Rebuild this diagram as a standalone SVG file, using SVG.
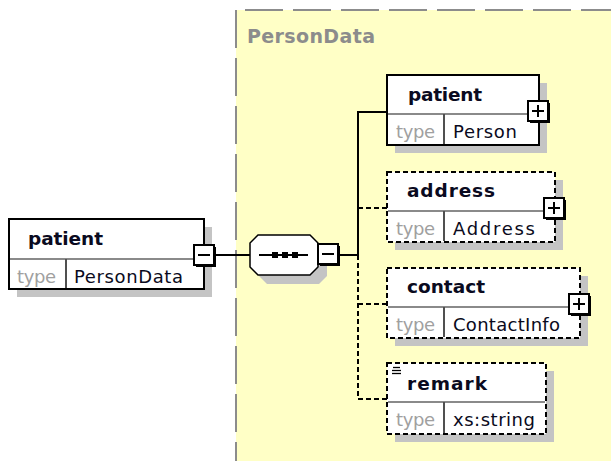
<svg xmlns="http://www.w3.org/2000/svg" width="611" height="461" viewBox="0 0 611 461">
<style>
.bg{fill:#ffffff}
.region{fill:#ffffc6}
.rborder{stroke:#8c8c8c;stroke-width:2;fill:none;stroke-dasharray:38 10}
.shadow{fill:#c4c4c4}
.box{fill:#ffffff;stroke:#000;stroke-width:2}
.dbox{fill:#ffffff;stroke:#000;stroke-width:2;stroke-dasharray:5 3}
.hdiv{stroke:#8a8a8a;stroke-width:2}
.vdiv{stroke:#505050;stroke-width:2}
.name{font-family:"DejaVu Sans","Liberation Sans",sans-serif;font-weight:bold;font-size:18.5px;fill:#0a0a20}
.tlabel{font-family:"DejaVu Sans","Liberation Sans",sans-serif;font-size:18px;fill:#a0a0a0}
.tval{font-family:"DejaVu Sans","Liberation Sans",sans-serif;font-size:18px;fill:#0a0a20}
.rlabel{font-family:"DejaVu Sans","Liberation Sans",sans-serif;font-weight:bold;font-size:19px;fill:#8c8c8c}
.conn{stroke:#000;stroke-width:2;fill:none}
.dconn{stroke:#000;stroke-width:2;fill:none;stroke-dasharray:5 3}
.btn{fill:#fff;stroke:#000;stroke-width:2}
.btnsh{fill:#000}
.sym{stroke:#000;stroke-width:2}
</style>
<rect class="bg" x="0" y="0" width="611" height="461"/>

<g id="region-PersonData">
<rect class="region" x="236" y="10" width="380" height="460"/>
<line class="rborder" x1="236" y1="10" x2="611" y2="10" stroke-dashoffset="39"/>
<line class="rborder" x1="236" y1="10" x2="236" y2="461"/>
<text class="rlabel" x="247" y="43" textLength="128">PersonData</text>
</g>

<g id="connectors">
<line class="conn" x1="216" y1="255" x2="250" y2="255"/>
<line class="conn" x1="340" y1="255" x2="358" y2="255"/>
<polyline class="conn" points="358,255 358,112 388,112"/>
<line class="dconn" x1="358" y1="255" x2="358" y2="399"/>
<line class="dconn" x1="358" y1="208" x2="388" y2="208"/>
<line class="dconn" x1="358" y1="304" x2="388" y2="304"/>
<line class="dconn" x1="358" y1="399" x2="388" y2="399"/>
</g>

<g id="node-patient-root">
<rect class="shadow" x="17" y="227" width="195" height="70"/>
<rect class="box" x="9" y="219" width="195" height="70"/>
<line class="hdiv" x1="10" y1="259" x2="203" y2="259"/>
<line class="vdiv" x1="66" y1="259" x2="66" y2="288"/>
<text class="name" x="28" y="245" textLength="75">patient</text>
<text class="tlabel" x="17" y="282.5" textLength="39">type</text>
<text class="tval" x="74" y="282.5" textLength="109">PersonData</text>
<rect class="btnsh" x="196" y="247" width="20" height="20"/>
<rect class="btn" x="194" y="245" width="20" height="20"/>
<line class="sym" x1="198" y1="255" x2="210" y2="255"/>
</g>

<g id="node-sequence">
<polygon class="shadow" points="267,244 319,244 327,252 327,276 319,284 267,284 259,276 259,252"/>
<polygon fill="#fff" stroke="#000" stroke-width="1.5" points="258,235 310,235 318,243 318,267 310,275 258,275 250,267 250,243"/>
<line class="conn" x1="259" y1="255" x2="308" y2="255"/>
<rect x="272" y="252" width="6" height="6" fill="#000"/>
<rect x="282" y="252" width="6" height="6" fill="#000"/>
<rect x="292" y="252" width="6" height="6" fill="#000"/>
<rect class="btnsh" x="320" y="246" width="20" height="20"/>
<rect class="btn" x="318" y="244" width="20" height="20"/>
<line class="sym" x1="322" y1="254" x2="334" y2="254"/>
</g>

<g id="node-patient">
<rect class="shadow" x="395" y="83" width="152" height="70"/>
<rect class="box" x="387" y="75" width="152" height="70"/>
<line class="hdiv" x1="388" y1="114" x2="538" y2="114"/>
<line class="vdiv" x1="444" y1="114" x2="444" y2="144"/>
<text class="name" x="408" y="101" textLength="74">patient</text>
<text class="tlabel" x="396" y="137.5" textLength="39">type</text>
<text class="tval" x="453" y="137.5" textLength="64">Person</text>
<rect class="btnsh" x="530" y="103" width="20" height="20"/>
<rect class="btn" x="528" y="101" width="20" height="20"/>
<line class="sym" x1="532" y1="111" x2="544" y2="111"/>
<line class="sym" x1="538" y1="105" x2="538" y2="117"/>
</g>

<g id="node-address">
<rect class="shadow" x="395" y="180" width="168" height="70"/>
<rect class="dbox" x="387" y="172" width="168" height="70"/>
<line class="hdiv" x1="388" y1="211" x2="554" y2="211"/>
<line class="vdiv" x1="444" y1="211" x2="444" y2="241"/>
<text class="name" x="407" y="197" textLength="88">address</text>
<text class="tlabel" x="396" y="234.5" textLength="39">type</text>
<text class="tval" x="453" y="234.5" textLength="82">Address</text>
<rect class="btnsh" x="546" y="200" width="20" height="20"/>
<rect class="btn" x="544" y="198" width="20" height="20"/>
<line class="sym" x1="548" y1="208" x2="560" y2="208"/>
<line class="sym" x1="554" y1="202" x2="554" y2="214"/>
</g>

<g id="node-contact">
<rect class="shadow" x="395" y="276" width="193" height="70"/>
<rect class="dbox" x="387" y="268" width="193" height="70"/>
<line class="hdiv" x1="388" y1="307" x2="579" y2="307"/>
<line class="vdiv" x1="444" y1="307" x2="444" y2="337"/>
<text class="name" x="407" y="293" textLength="78">contact</text>
<text class="tlabel" x="396" y="330.5" textLength="39">type</text>
<text class="tval" x="453" y="330.5" textLength="107">ContactInfo</text>
<rect class="btnsh" x="571" y="296" width="20" height="20"/>
<rect class="btn" x="569" y="294" width="20" height="20"/>
<line class="sym" x1="573" y1="304" x2="585" y2="304"/>
<line class="sym" x1="579" y1="298" x2="579" y2="310"/>
</g>

<g id="node-remark">
<rect class="shadow" x="395" y="371" width="159" height="71"/>
<rect class="dbox" x="387" y="363" width="159" height="71"/>
<line class="hdiv" x1="388" y1="402" x2="545" y2="402"/>
<line class="vdiv" x1="444" y1="402" x2="444" y2="433"/>
<line stroke="#000" stroke-width="1.3" x1="393" y1="367.5" x2="400" y2="367.5"/>
<line stroke="#000" stroke-width="1.3" x1="392" y1="370.5" x2="401" y2="370.5"/>
<line stroke="#000" stroke-width="1.3" x1="392" y1="373.5" x2="401" y2="373.5"/>
<text class="name" x="407" y="390" textLength="80">remark</text>
<text class="tlabel" x="396" y="425.5" textLength="39">type</text>
<text class="tval" x="453" y="425.5" textLength="82">xs:string</text>
</g>
</svg>
